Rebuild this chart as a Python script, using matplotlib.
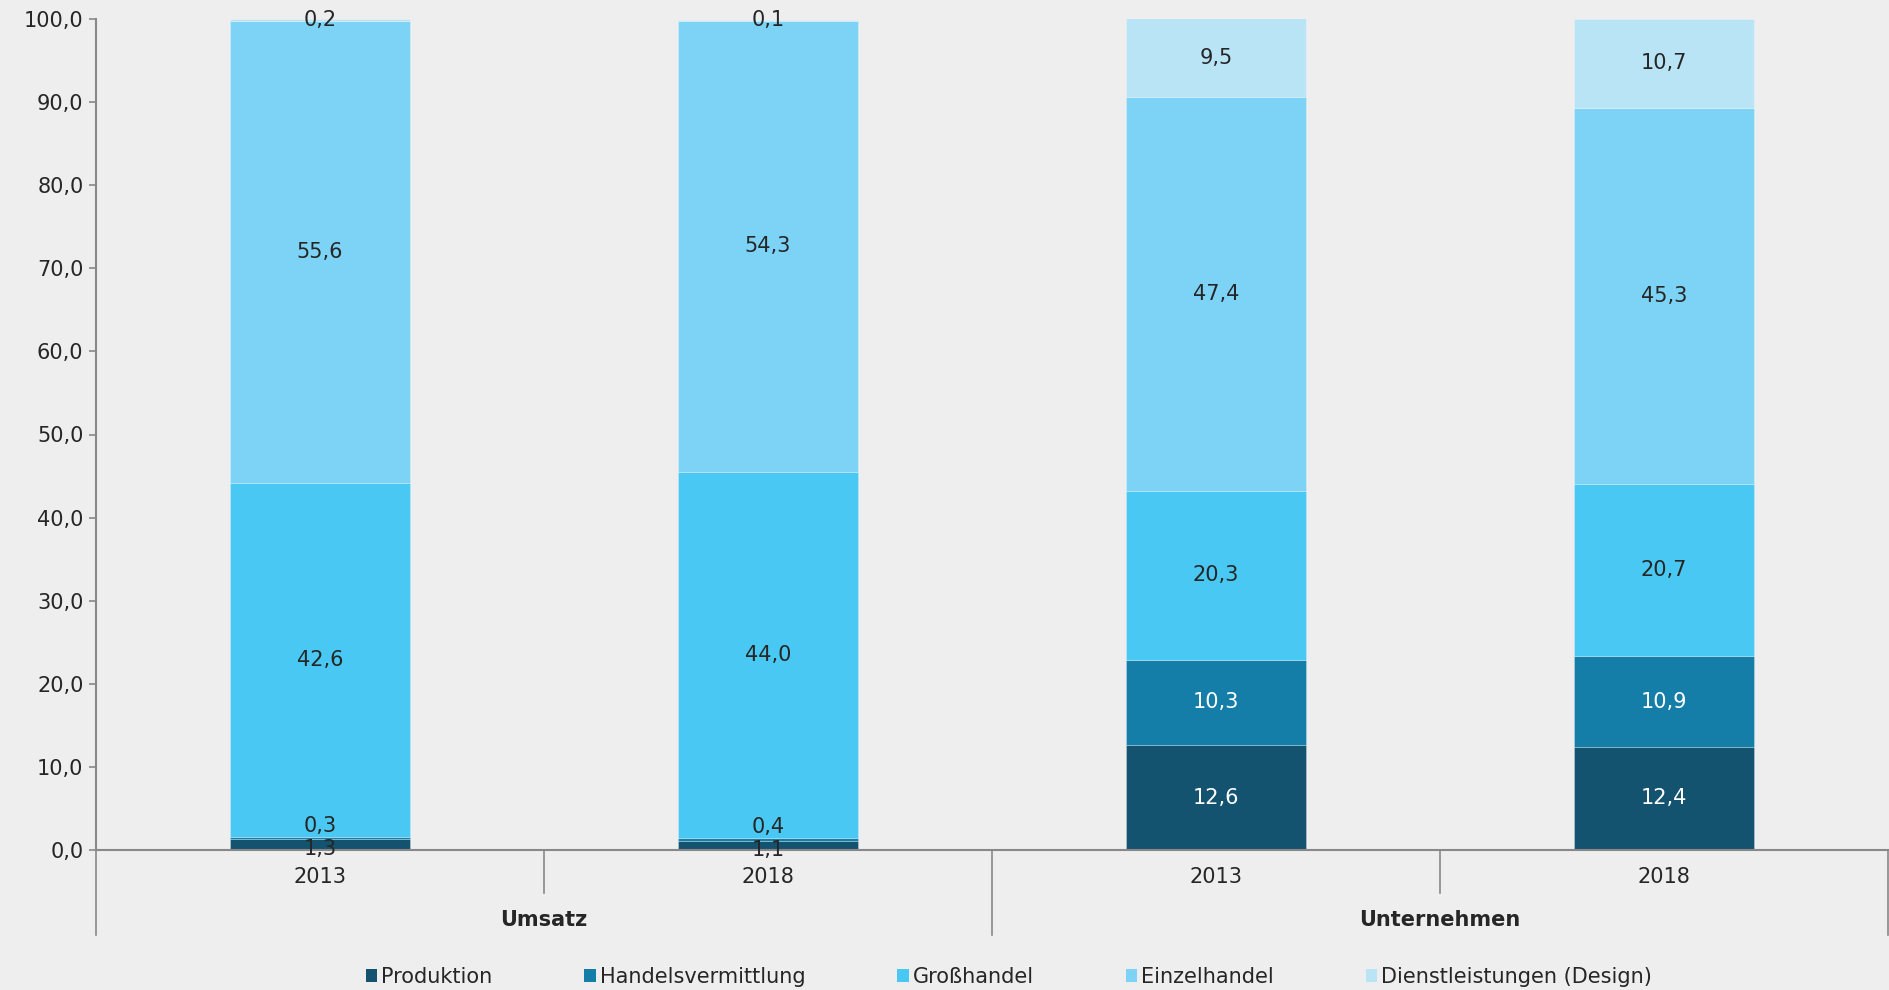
import numpy as np
import matplotlib
matplotlib.use('Agg')
import matplotlib.pyplot as plt
from matplotlib.patches import Patch
from matplotlib.ticker import FuncFormatter

plt.rcParams['font.family'] = ['DejaVu Sans']

# shares in percent, stacked bottom to top
years = ['2013', '2018', '2013', '2018']
groups = ['Umsatz', 'Unternehmen']
series = ['Produktion', 'Handelsvermittlung', 'Großhandel', 'Einzelhandel', 'Dienstleistungen (Design)']
produktion = [1.3, 1.1, 12.6, 12.4]
handelsvermittlung = [0.3, 0.4, 10.3, 10.9]
grosshandel = [42.6, 44.0, 20.3, 20.7]
einzelhandel = [55.6, 54.3, 47.4, 45.3]
dienstleistungen = [0.2, 0.1, 9.5, 10.7]

colors = ['#145370', '#147DA8', '#48C8F2', '#7DD3F5', '#B9E4F5']
bg = '#EEEEEE'
txt = '#262626'
axcol = '#888888'
fs = 15

values = [produktion, handelsvermittlung, grosshandel, einzelhandel, dienstleistungen]

fig = plt.figure(figsize=(18.9, 9.9), dpi=100, facecolor=bg)
ax = fig.add_axes([96/1890, 1-850/990, (1888-96)/1890, 831/990])
ax.set_facecolor(bg)

x = np.arange(len(years))
bottom = np.zeros(len(years))
for i, (name, vals) in enumerate(zip(series, values)):
    vals = np.array(vals)
    ax.bar(x, vals, width=0.4, bottom=bottom, color=colors[i], label=name,
           edgecolor=(1, 1, 1, 0.3), linewidth=0.6, zorder=2)
    for j in range(len(years)):
        v = vals[j]
        yc = bottom[j] + v/2
        dy = 0
        if v < 2 and i == 0:
            dy = -3.3
        elif v < 2 and i == 1:
            dy = 8.5
        c = 'white' if (i < 2 and v > 5) else txt
        ax.annotate(('%.1f' % v).replace('.', ','), (x[j], yc), xytext=(0, dy),
                    textcoords='offset points', ha='center', va='center',
                    fontsize=fs, color=c, zorder=3)
    bottom = bottom + vals

ax.set_xlim(-0.5, len(years)-0.5)
ax.set_ylim(0, 100)
ax.set_yticks(np.arange(0, 101, 10))
ax.yaxis.set_major_formatter(FuncFormatter(lambda v, p: ('%.1f' % v).replace('.', ',')))
ax.tick_params(axis='y', labelsize=fs, colors=axcol, labelcolor=txt, length=5, width=1.2, pad=4)
ax.set_xticks([])
for s in ['top', 'right']:
    ax.spines[s].set_visible(False)
for s in ['left', 'bottom']:
    ax.spines[s].set_color(axcol)
    ax.spines[s].set_linewidth(1.5)

# category axis: years, group names and separators below the plot
tr = ax.get_xaxis_transform()
for j, yr in enumerate(years):
    ax.text(x[j], -0.0325, yr, transform=tr, ha='center', va='center', fontsize=fs, color=txt)
for k, g in enumerate(groups):
    ax.text(2*k + 0.5, -0.0842, g, transform=tr, ha='center', va='center',
            fontsize=fs, color=txt, fontweight='bold')
for sx in np.arange(-0.5, len(years), 1.0):
    depth = -0.102 if (sx + 0.5) % 2 == 0 else -0.0517
    ax.plot([sx, sx], [0, depth], transform=tr, color=axcol, lw=1.2, clip_on=False)

handles = [Patch(facecolor=c, edgecolor='none') for c in colors]
fig.legend(handles, series, loc='center', bbox_to_anchor=(1009/1890, 1-977/990), ncol=5,
           frameon=False, fontsize=fs, handlelength=0.55, handleheight=0.55,
           handletextpad=0.2, columnspacing=4.4, labelcolor=txt)

fig.savefig('out.png', dpi=100, facecolor=bg)
